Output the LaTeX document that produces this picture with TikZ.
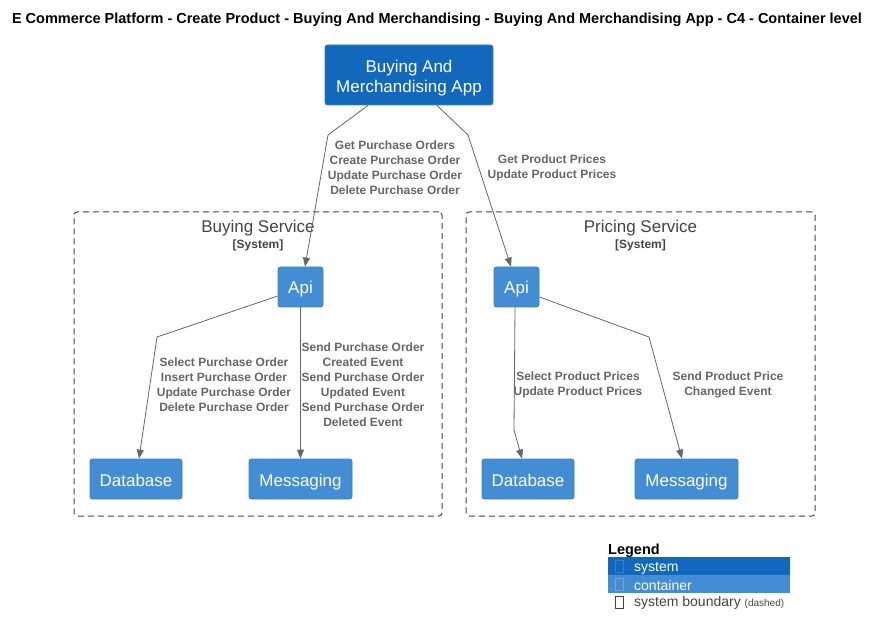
\documentclass[tikz,border=0pt]{standalone}
\usepackage{fontspec}
\setmainfont{Liberation Sans}
\usetikzlibrary{arrows.meta}
\definecolor{sysblue}{HTML}{1168BD}
\definecolor{contblue}{HTML}{438DD5}
\definecolor{bordblue}{HTML}{3C7FC0}
\definecolor{linegray}{HTML}{666666}
\definecolor{titlegray}{HTML}{444444}
\begin{document}
\begin{tikzpicture}[x=1pt,y=-1pt,
  boxtext/.style={font=\fontsize{17}{20}\selectfont, text=white, align=center},
  sysbox/.style={boxtext, fill=sysblue, draw=bordblue, line width=0.8pt, rounded corners=2.5pt, inner sep=0pt},
  contbox/.style={boxtext, fill=contblue, draw=bordblue, line width=0.8pt, rounded corners=2.5pt, inner sep=0pt, minimum height=40pt, text height=14pt, text depth=0pt},
  boundary/.style={draw=titlegray, dash pattern=on 6pt off 4pt, line width=1pt, rounded corners=3pt, inner sep=0pt},
  btitle/.style={font=\fontsize{17}{20}\selectfont, text=titlegray, inner sep=0pt},
  bsub/.style={font=\bfseries\fontsize{12}{14}\selectfont, text=titlegray, inner sep=0pt},
  conn/.style={draw=linegray, line width=0.8pt, -{Triangle[length=9pt,width=7pt]}, line join=round},
  lbl/.style={font=\bfseries\fontsize{12}{15}\selectfont, text=linegray, align=center, inner sep=0pt},
  legtext/.style={font=\fontsize{14}{16}\selectfont, anchor=west, inner sep=0pt},
  legrow/.style={minimum width=182pt, minimum height=18pt, anchor=north west, inner sep=0pt, draw=none}
]
\useasboundingbox (0,0) rectangle (881,636);
\fill[white] (0,0) rectangle (881,636);

\node[font=\bfseries\fontsize{14.5}{17}\selectfont, inner sep=0pt] (title) at (437,20)
  {E Commerce Platform - Create Product - Buying And Merchandising - Buying And Merchandising App - C4 - Container level};

% app
\node[sysbox, minimum width=168pt, minimum height=60pt] (app) at (409,75) {};
\node[boxtext, inner sep=0pt] (apptext) at (409,78) {Buying And\\Merchandising App};

% boundaries
\node[boundary, minimum width=368pt, minimum height=304pt] (bsvc) at (258,364) {};
\node[btitle] (bsvct) at (258,228) {Buying Service};
\node[bsub] (bsvcs) at (258,245) {[System]};
\node[boundary, minimum width=349pt, minimum height=304pt] (psvc) at (640.5,364) {};
\node[btitle] (psvct) at (640.5,228) {Pricing Service};
\node[bsub] (psvcs) at (640.5,245) {[System]};

% containers
\node[contbox, minimum width=45pt] (bapi) at (300.5,287) {Api};
\node[contbox, minimum width=92pt] (bdb) at (136,479) {Database};
\node[contbox, minimum width=103pt] (bmsg) at (300.5,479) {Messaging};
\node[contbox, minimum width=45pt] (papi) at (516.5,287) {Api};
\node[contbox, minimum width=92pt] (pdb) at (528,479) {Database};
\node[contbox, minimum width=103pt] (pmsg) at (686.5,479) {Messaging};

% connectors
\draw[conn] ([xshift=-41pt]app.south) -- (328,135) -- ([xshift=4.5pt]bapi.north);
\draw[conn] ([xshift=28pt]app.south) -- (468,135) -- ([xshift=-5.5pt]papi.north);
\draw[conn] ([yshift=-9pt]bapi.west) -- (157,337) -- ([xshift=3pt]bdb.north);
\draw[conn] (bapi.south) -- (bmsg.north);
\draw[conn] ([xshift=-1.5pt]papi.south) -- (514,430) -- ([xshift=-6pt]pdb.north);
\draw[conn] ([yshift=-10pt]papi.east) -- (649,337) -- ([xshift=-4.5pt]pmsg.north);

% labels
\node[lbl] (l1) at (395,167.5) {Get Purchase Orders\\Create Purchase Order\\Update Purchase Order\\Delete Purchase Order};
\node[lbl] (l2) at (552,167.5) {Get Product Prices\\Update Product Prices};
\node[lbl] (l3) at (224,384.5) {Select Purchase Order\\Insert Purchase Order\\Update Purchase Order\\Delete Purchase Order};
\node[lbl] (l4) at (363,385) {Send Purchase Order\\Created Event\\Send Purchase Order\\Updated Event\\Send Purchase Order\\Deleted Event};
\node[lbl] (l5) at (578,384.5) {Select Product Prices\\Update Product Prices};
\node[lbl] (l6) at (728,384.5) {Send Product Price\\Changed Event};

% legend
\node[font=\bfseries\fontsize{14.5}{17}\selectfont, anchor=west, inner sep=0pt] (legt) at (608,551) {Legend};
\node[legrow, fill=sysblue] (lsys) at (608,557) {};
\node[legrow, fill=contblue] (lcont) at (608,575) {};
\node[legrow] (lbnd) at (608,593) {};
\draw[bordblue, line width=0.6pt] (615,560.5) rectangle (623,572.5);
\draw[bordblue!70!white, line width=0.6pt] (615,578.5) rectangle (623,590.5);
\draw[titlegray, line width=0.6pt] (615,596.5) rectangle (623,608.5);
\node[legtext, text=white] (lsyst) at (634,568.5) {system};
\node[legtext, text=white] (lcontt) at (634,585.5) {container};
\node[legtext, text=titlegray] (lbndt) at (634,603) {system boundary \fontsize{10}{12}\selectfont(dashed)};
\end{tikzpicture}
\end{document}
